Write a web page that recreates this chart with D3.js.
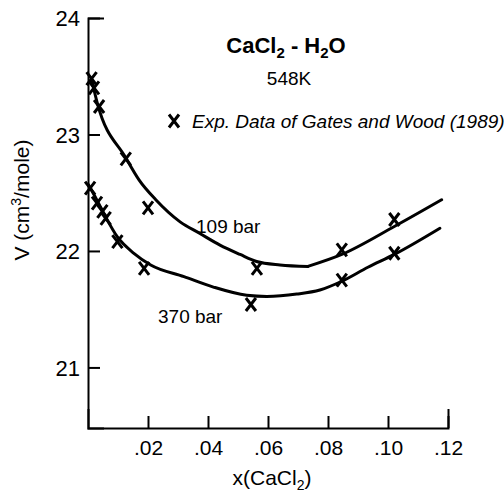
<!DOCTYPE html>
<html><head><meta charset="utf-8">
<script src="https://cdn.jsdelivr.net/npm/d3@7"></script>
<style>
body{margin:0;background:#fff}
svg{display:block}
text{font-family:"Liberation Sans",Arial,Helvetica,sans-serif;fill:#000}
</style>
</head><body>
<svg id="c" width="504" height="492"></svg>
<script>
// ---- data ----
const xTicks = [0.02, 0.04, 0.06, 0.08, 0.10, 0.12];
const yTicks = [21, 22, 23, 24];

// experimental points (Gates and Wood 1989)
const exp109X = [0.0012, 0.0020, 0.0037, 0.0126, 0.0200, 0.0563, 0.0846, 0.1021];
const exp109V = [23.48, 23.40, 23.24, 22.79, 22.37, 21.85, 22.01, 22.27];
const exp370X = [0.0007, 0.0030, 0.0048, 0.0059, 0.0098, 0.0187, 0.0543, 0.0846, 0.1021];
const exp370V = [22.54, 22.41, 22.34, 22.28, 22.08, 21.85, 21.54, 21.75, 21.98];

// model curves
const curve109X = [0.0012, 0.0031, 0.0126, 0.0170, 0.0226, 0.0307, 0.0373, 0.0440, 0.0507, 0.0562, 0.0640, 0.0733, 0.0846, 0.1021, 0.1179];
const curve109V = [23.47, 23.27, 22.80, 22.61, 22.44, 22.25, 22.15, 22.05, 21.97, 21.91, 21.88, 21.867, 21.97, 22.21, 22.44];
const kink109 = 0.0733;
const curve370X = [0.0001, 0.0029, 0.0053, 0.0098, 0.0153, 0.0209, 0.0320, 0.0418, 0.0529, 0.0596, 0.0696, 0.0773, 0.0846, 0.0933, 0.1021, 0.1173];
const curve370V = [22.57, 22.44, 22.32, 22.12, 21.98, 21.88, 21.78, 21.69, 21.62, 21.61, 21.63, 21.665, 21.74, 21.86, 21.97, 22.195];

const curveLabels = ["109 bar", "370 bar"];

// ---- chart ----
const svg = d3.select("#c");
const x = d3.scaleLinear().domain([0, 0.12]).range([88, 448]);
const y = d3.scaleLinear().domain([20.48, 24]).range([428, 18]);

// axes
const fmtX = d => d3.format(".2f")(d).replace(/^0/, "");
const gx = svg.append("g").attr("transform", `translate(0,${y(20.48)})`)
  .call(d3.axisBottom(x).tickValues(xTicks).tickFormat(fmtX)
        .tickSizeInner(-12).tickSizeOuter(-19).tickPadding(12));
const gy = svg.append("g").attr("transform", `translate(${x(0)},0)`)
  .call(d3.axisLeft(y).tickValues(yTicks).tickFormat(d3.format("d"))
        .tickSizeInner(-12).tickSizeOuter(-16).tickPadding(8));
[gx, gy].forEach(g => {
  g.selectAll("path,line").attr("stroke", "#000").attr("stroke-width", 2);
  g.selectAll("text").attr("font-family", '"Liberation Sans",Arial,sans-serif').attr("fill", "#000");
});
gx.selectAll("text").attr("font-size", 21).attr("dy", "0.71em").attr("y", 12);
gy.selectAll("text").attr("font-size", 22).attr("dy", "0.35em");

// curves
const line = d3.line().x(d => x(d[0])).y(d => y(d[1])).curve(d3.curveMonotoneX);
const c109 = curve109X.map((v, i) => [v, curve109V[i]]);
const c370 = curve370X.map((v, i) => [v, curve370V[i]]);
const segs = [c109.filter(d => d[0] <= kink109), c109.filter(d => d[0] >= kink109), c370];
svg.append("g").selectAll("path").data(segs).join("path")
  .attr("d", line).attr("fill", "none").attr("stroke", "#000")
  .attr("stroke-width", 3).attr("stroke-linecap", "round");

// X markers
const pts = exp109X.map((v, i) => [v, exp109V[i]]).concat(exp370X.map((v, i) => [v, exp370V[i]]));
const hw = 5, hh = 6.5;
const xMark = (cx, cy) => `M${cx - hw},${cy - hh}L${cx + hw},${cy + hh}M${cx + hw},${cy - hh}L${cx - hw},${cy + hh}`;
svg.append("g").selectAll("path").data(pts).join("path")
  .attr("d", d => xMark(x(d[0]), y(d[1])))
  .attr("stroke", "#000").attr("stroke-width", 3).attr("fill", "none");

// curve labels
svg.append("text").attr("x", 196).attr("y", 233).attr("font-size", 19).text(curveLabels[0]);
svg.append("text").attr("x", 158).attr("y", 323).attr("font-size", 19).text(curveLabels[1]);

// title
const t = svg.append("text").attr("x", 286).attr("y", 53).attr("text-anchor", "middle")
  .attr("font-size", 22).attr("font-weight", "bold");
t.append("tspan").text("CaCl");
t.append("tspan").attr("font-size", 15).attr("dy", 5).text("2");
t.append("tspan").attr("dy", -5).text(" - H");
t.append("tspan").attr("font-size", 15).attr("dy", 5).text("2");
t.append("tspan").attr("dy", -5).text("O");
svg.append("text").attr("x", 289).attr("y", 85).attr("text-anchor", "middle")
  .attr("font-size", 19).text("548K");

// legend
svg.append("path").attr("d", xMark(174, 121)).attr("stroke", "#000").attr("stroke-width", 3).attr("fill", "none");
svg.append("text").attr("x", 192).attr("y", 128).attr("font-size", 19).attr("font-style", "italic")
  .text("Exp. Data of Gates and Wood (1989)");

// axis titles
const xl = svg.append("text").attr("x", 272).attr("y", 485).attr("text-anchor", "middle").attr("font-size", 21);
xl.append("tspan").text("x(CaCl");
xl.append("tspan").attr("font-size", 14).attr("dy", 5).text("2");
xl.append("tspan").attr("dy", -5).text(")");

const yl = svg.append("text").attr("transform", "translate(29,200) rotate(-90)")
  .attr("text-anchor", "middle").attr("font-size", 21);
yl.append("tspan").text("V (cm");
yl.append("tspan").attr("font-size", 14).attr("dy", -8).text("3");
yl.append("tspan").attr("dy", 8).text("/mole)");
</script>
</body></html>
